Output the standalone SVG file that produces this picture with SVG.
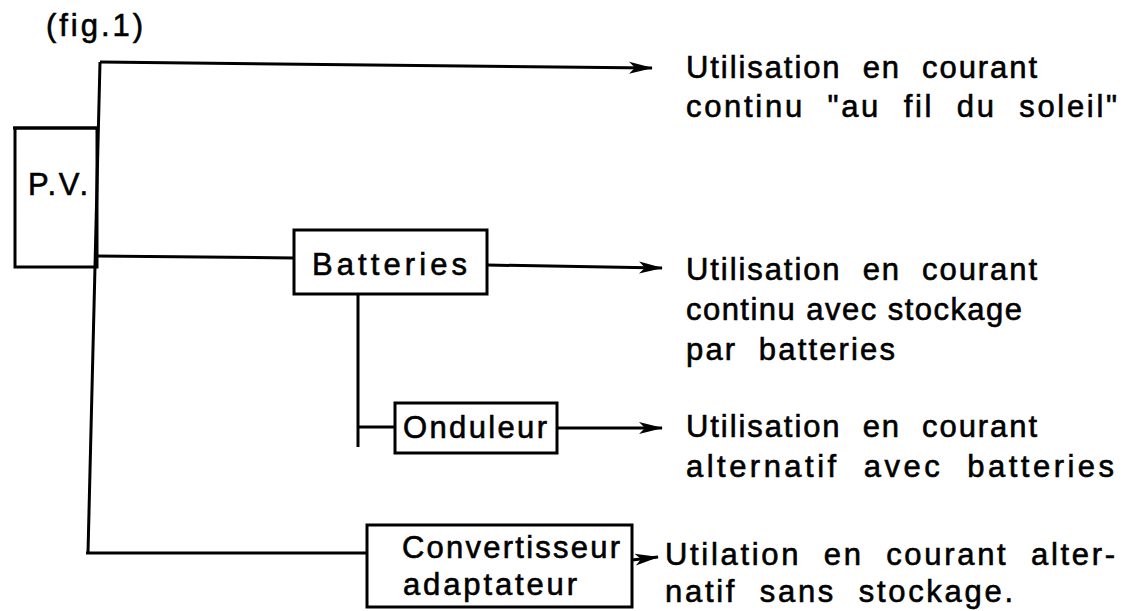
<svg xmlns="http://www.w3.org/2000/svg" width="1133" height="611" viewBox="0 0 1133 611">
<style>
.t{font-family:"Liberation Sans",Arial,sans-serif;font-size:31px;fill:#000;stroke:#000;stroke-width:0.6px;white-space:pre}
.b{fill:none;stroke:#000;stroke-width:3}
.c{fill:none;stroke:#000;stroke-width:3}
</style>
<defs>
<marker id="ah" viewBox="0 0 24 14" refX="23" refY="7" markerWidth="24" markerHeight="14" markerUnits="userSpaceOnUse" orient="auto">
<path d="M0,1 L24,7 L0,13 L6,7 Z" fill="#000"/>
</marker>
</defs>
<rect width="1133" height="611" fill="#fff"/>
<text class="t" x="46" y="36" textLength="97" lengthAdjust="spacing">(fig.1)</text>
<g id="pv"><rect class="b" x="15" y="128" width="82" height="139"/><text class="t" x="28" y="195" textLength="60" lengthAdjust="spacing">P.V.</text></g>
<g id="batteries"><rect class="b" x="294" y="230" width="193" height="64"/><text class="t" x="312" y="275" textLength="155" lengthAdjust="spacing">Batteries</text></g>
<g id="onduleur"><rect class="b" x="395" y="403" width="162" height="50"/><text class="t" x="403" y="438" textLength="144" lengthAdjust="spacing">Onduleur</text></g>
<g id="convertisseur"><rect class="b" x="367" y="525" width="265" height="82"/><text class="t" x="402" y="558" textLength="218" lengthAdjust="spacing">Convertisseur</text><text class="t" x="403" y="595" textLength="174" lengthAdjust="spacing">adaptateur</text></g>
<g id="connectors">
<polyline class="c" points="13,128 97,128"/>
<polyline class="c" points="100,62 88,553"/>
<polyline class="c" points="100,62 652,68" marker-end="url(#ah)"/>
<polyline class="c" points="96,256 294,258"/>
<polyline class="c" points="487,265 662,268" marker-end="url(#ah)"/>
<polyline class="c" points="358,294 358,447"/>
<polyline class="c" points="358,427 395,427"/>
<polyline class="c" points="557,428 662,428" marker-end="url(#ah)"/>
<polyline class="c" points="86,553 367,553"/>
<polyline class="c" points="632,560 658,557" marker-end="url(#ah)"/>
</g>
<g id="labels">
<text class="t" x="686" y="78" textLength="351" lengthAdjust="spacing" xml:space="preserve">Utilisation  en  courant</text>
<text class="t" x="686" y="117" textLength="431" lengthAdjust="spacing" xml:space="preserve">continu  "au  fil  du  soleil"</text>
<text class="t" x="686" y="280" textLength="351" lengthAdjust="spacing" xml:space="preserve">Utilisation  en  courant</text>
<text class="t" x="686" y="320" textLength="336" lengthAdjust="spacing">continu avec stockage</text>
<text class="t" x="686" y="360" textLength="209" lengthAdjust="spacing" xml:space="preserve">par  batteries</text>
<text class="t" x="686" y="437" textLength="351" lengthAdjust="spacing" xml:space="preserve">Utilisation  en  courant</text>
<text class="t" x="686" y="477" textLength="428" lengthAdjust="spacing" xml:space="preserve">alternatif  avec  batteries</text>
<text class="t" x="665" y="565" textLength="450" lengthAdjust="spacing" xml:space="preserve">Utilation  en  courant  alter-</text>
<text class="t" x="665" y="602" textLength="348" lengthAdjust="spacing" xml:space="preserve">natif  sans  stockage.</text>
</g>
</svg>
